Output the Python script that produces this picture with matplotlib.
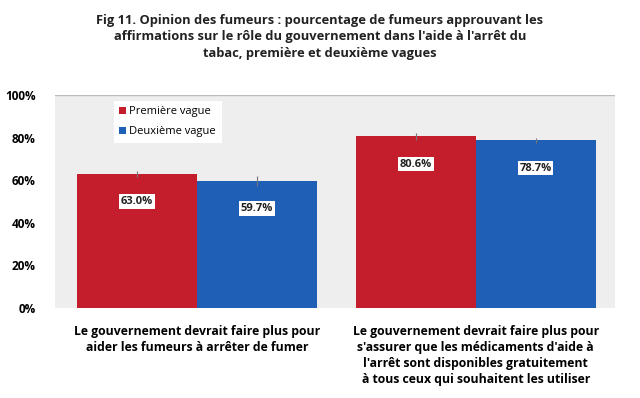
import numpy as np
import matplotlib.pyplot as plt

categories = [
    "Le gouvernement devrait faire plus pour\naider les fumeurs à arrêter de fumer",
    "Le gouvernement devrait faire plus pour\ns'assurer que les médicaments d'aide à\nl'arrêt sont disponibles gratuitement\nà tous ceux qui souhaitent les utiliser",
]
series_names = ["Première vague", "Deuxième vague"]
vague1 = [63.0, 80.6]
vague2 = [59.7, 78.7]
err1 = [1.5, 1.5]
err2 = [2.5, 1.0]
yticks = [0, 20, 40, 60, 80, 100]

RED = "#c41e2c"
BLUE = "#1f5fb5"

plt.rcParams['font.family'] = ['Open Sans', 'DejaVu Sans']

fig = plt.figure(figsize=(6.4, 3.98), dpi=100)
ax = fig.add_axes([0.086, 0.226, 0.875, 0.535])
ax.set_facecolor("#eeeeee")

x = np.arange(len(categories))
w = 0.43
b1 = ax.bar(x - w / 2, vague1, w, color=RED, label=series_names[0],
            yerr=err1, error_kw=dict(ecolor="#777777", elinewidth=0.8, capsize=0))
b2 = ax.bar(x + w / 2, vague2, w, color=BLUE, label=series_names[1],
            yerr=err2, error_kw=dict(ecolor="#777777", elinewidth=0.8, capsize=0))

for bars, vals in [(b1, vague1), (b2, vague2)]:
    for rect, v in zip(bars, vals):
        ax.text(rect.get_x() + rect.get_width() / 2, v - 13, f"{v:.1f}%",
                ha="center", va="center", fontsize=8, fontweight="bold",
                color="#222222",
                bbox=dict(boxstyle="square,pad=0.15", fc="white", ec="none"))

ax.set_xlim(-0.51, 1.5)
ax.set_ylim(0, 100)
ax.set_yticks(yticks)
ax.set_yticklabels([f"{t}%" for t in yticks], fontsize=8.5, fontweight="bold")
ax.axhline(100, color="#bbbbbb", lw=1)
ax.tick_params(axis="y", length=0, pad=14)
ax.set_xticks(x)
ax.set_xticklabels(categories, fontsize=8.8, fontweight="bold", linespacing=1.3)
ax.tick_params(axis="x", length=0, pad=12)
for s in ax.spines.values():
    s.set_visible(False)

leg = ax.legend(loc="upper left", bbox_to_anchor=(0.095, 1.0), frameon=True,
                fancybox=False, edgecolor="none", facecolor="white",
                framealpha=1, fontsize=8, handlelength=0.6, handleheight=0.6,
                handletextpad=0.3, borderpad=0.5, labelspacing=0.8)

fig.text(0.5, 0.965,
         "Fig 11. Opinion des fumeurs : pourcentage de fumeurs approuvant les\n"
         "affirmations sur le rôle du gouvernement dans l'aide à l'arrêt du\n"
         "tabac, première et deuxième vagues",
         ha="center", va="top", fontsize=9.3, fontweight="bold", color="#222222",
         linespacing=1.35)

fig.savefig("out.png", dpi=100)
